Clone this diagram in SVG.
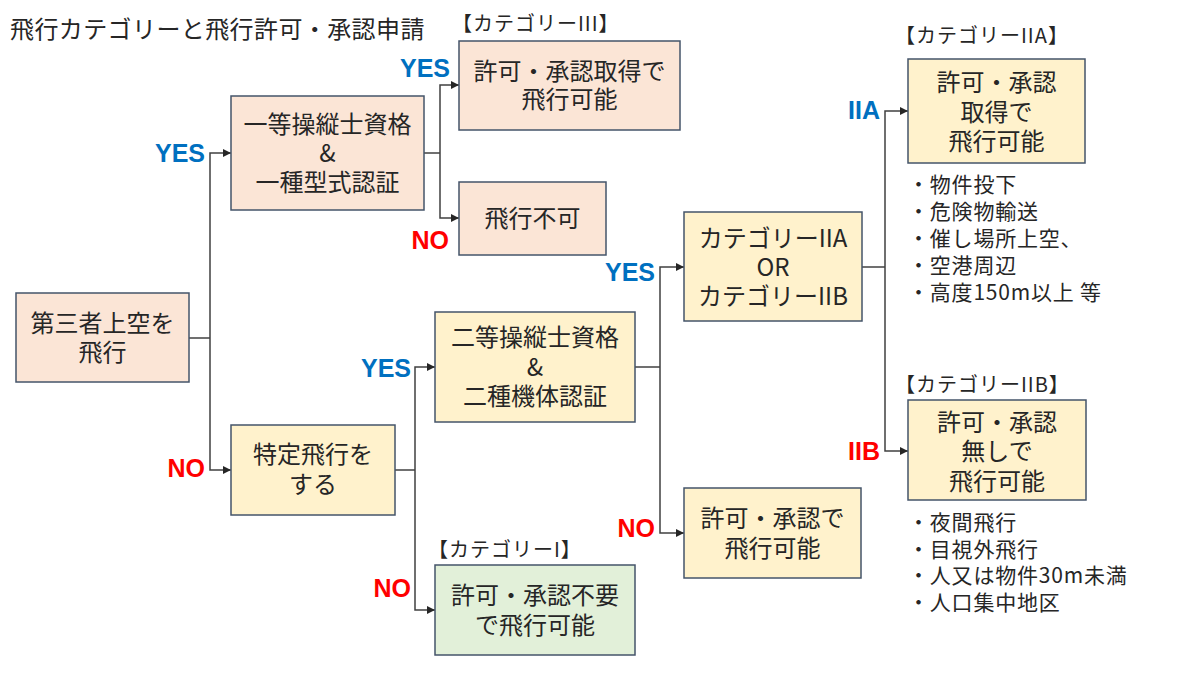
<svg xmlns="http://www.w3.org/2000/svg" width="1200" height="675" viewBox="0 0 1200 675">
<defs>
<style>
.box{stroke:#44546a;stroke-width:1.5}
.peach{fill:#fbe5d6}
.yellow{fill:#fff2cc}
.green{fill:#e2f0d9}
.t{font-family:"Noto Sans CJK JP","Noto Sans",sans-serif;font-size:24px;fill:#262626;text-anchor:middle;dominant-baseline:central}
.cat{font-family:"Noto Sans CJK JP","Noto Sans",sans-serif;font-size:20px;letter-spacing:1px;fill:#262626;dominant-baseline:central}
.lst{font-family:"Noto Sans CJK JP","Noto Sans",sans-serif;font-size:21px;letter-spacing:0.8px;fill:#262626;dominant-baseline:central}
.ttl{font-family:"Noto Sans CJK JP","Noto Sans",sans-serif;font-size:24px;letter-spacing:0.4px;fill:#262626;dominant-baseline:central}
.yes{font-family:"Liberation Sans",Arial,sans-serif;font-weight:bold;font-size:25px;fill:#0070c0;text-anchor:end;dominant-baseline:central}
.no{font-family:"Liberation Sans",Arial,sans-serif;font-weight:bold;font-size:25px;fill:#ff0000;text-anchor:end;dominant-baseline:central}
.c{fill:none;stroke:#404040;stroke-width:1.5}
</style>
<marker id="ah" markerUnits="userSpaceOnUse" markerWidth="9" markerHeight="8" refX="8" refY="4" orient="auto">
<path d="M0,0 L8,4 L0,8 Z" fill="#262626"/>
</marker>
</defs>
<rect width="1200" height="675" fill="#ffffff"/>
<text x="10" y="27" class="ttl">飛行カテゴリーと飛行許可・承認申請</text>

<g id="connectors">
<path class="c" d="M189,338 H210"/>
<path class="c" d="M210,338 V153 H231" marker-end="url(#ah)"/>
<path class="c" d="M210,338 V470 H231" marker-end="url(#ah)"/>
<path class="c" d="M424,153 H440"/>
<path class="c" d="M440,153 V85 H459" marker-end="url(#ah)"/>
<path class="c" d="M440,153 V218 H459" marker-end="url(#ah)"/>
<path class="c" d="M395,470 H415"/>
<path class="c" d="M415,470 V367 H435" marker-end="url(#ah)"/>
<path class="c" d="M415,470 V610 H435" marker-end="url(#ah)"/>
<path class="c" d="M635,367 H660"/>
<path class="c" d="M660,367 V267 H684" marker-end="url(#ah)"/>
<path class="c" d="M660,367 V533 H684" marker-end="url(#ah)"/>
<path class="c" d="M862,267 H885"/>
<path class="c" d="M885,267 V111 H908" marker-end="url(#ah)"/>
<path class="c" d="M885,267 V451 H908" marker-end="url(#ah)"/>
<text x="205" y="153" class="yes">YES</text>
<text x="205" y="468" class="no">NO</text>
<text x="450" y="68" class="yes">YES</text>
<text x="449" y="240" class="no">NO</text>
<text x="411" y="368" class="yes">YES</text>
<text x="411" y="588" class="no">NO</text>
<text x="655" y="272" class="yes">YES</text>
<text x="655" y="528" class="no">NO</text>
<text x="880" y="110" class="yes">IIA</text>
<text x="880" y="451" class="no">IIB</text>
</g>

<g id="n-start">
<rect x="16" y="293" width="173" height="89" class="box peach"/>
<text x="102.5" y="321" class="t">第三者上空を</text>
<text x="102.5" y="350" class="t">飛行</text>
</g>

<g id="n-first">
<rect x="231" y="96" width="193" height="114" class="box peach"/>
<text x="327.5" y="122" class="t">一等操縦士資格</text>
<text x="327.5" y="151" class="t">&amp;</text>
<text x="327.5" y="180" class="t">一種型式認証</text>
</g>

<g id="n-cat3">
<text x="452" y="22" class="cat">【カテゴリーIII】</text>
<rect x="459" y="41" width="221" height="89" class="box peach"/>
<text x="569.5" y="69" class="t">許可・承認取得で</text>
<text x="569.5" y="97" class="t">飛行可能</text>
</g>

<g id="n-ng">
<rect x="459" y="182" width="147" height="73" class="box peach"/>
<text x="532.5" y="216" class="t">飛行不可</text>
</g>

<g id="n-specific">
<rect x="231" y="425" width="164" height="90" class="box yellow"/>
<text x="313" y="452" class="t">特定飛行を</text>
<text x="313" y="482" class="t">する</text>
</g>

<g id="n-second">
<rect x="435" y="312" width="200" height="110" class="box yellow"/>
<text x="535" y="335" class="t">二等操縦士資格</text>
<text x="535" y="365" class="t">&amp;</text>
<text x="535" y="394" class="t">二種機体認証</text>
</g>

<g id="n-cat1">
<text x="428" y="548" class="cat">【カテゴリーI】</text>
<rect x="435" y="565" width="200" height="90" class="box green"/>
<text x="535" y="593" class="t">許可・承認不要</text>
<text x="535" y="623" class="t">で飛行可能</text>
</g>

<g id="n-cat2">
<rect x="684" y="212" width="178" height="109" class="box yellow"/>
<text x="773" y="236" class="t">カテゴリーIIA</text>
<text x="773" y="265" class="t">OR</text>
<text x="773" y="294" class="t">カテゴリーIIB</text>
</g>

<g id="n-permit">
<rect x="684" y="488" width="177" height="90" class="box yellow"/>
<text x="772.5" y="516" class="t">許可・承認で</text>
<text x="772.5" y="546" class="t">飛行可能</text>
</g>

<g id="n-cat2a">
<text x="895" y="34" class="cat">【カテゴリーIIA】</text>
<rect x="908" y="59" width="177" height="104" class="box yellow"/>
<text x="996.5" y="80" class="t">許可・承認</text>
<text x="996.5" y="110" class="t">取得で</text>
<text x="996.5" y="139" class="t">飛行可能</text>
<text x="908" y="183" class="lst">・物件投下</text>
<text x="908" y="210" class="lst">・危険物輸送</text>
<text x="908" y="237" class="lst">・催し場所上空、</text>
<text x="908" y="264" class="lst">・空港周辺</text>
<text x="908" y="291" class="lst">・高度150m以上 等</text>
</g>

<g id="n-cat2b">
<text x="895" y="383" class="cat">【カテゴリーIIB】</text>
<rect x="908" y="400" width="178" height="100" class="box yellow"/>
<text x="997" y="420" class="t">許可・承認</text>
<text x="997" y="449" class="t">無しで</text>
<text x="997" y="479" class="t">飛行可能</text>
<text x="908" y="521" class="lst">・夜間飛行</text>
<text x="908" y="548" class="lst">・目視外飛行</text>
<text x="908" y="574" class="lst">・人又は物件30m未満</text>
<text x="908" y="601" class="lst">・人口集中地区</text>
</g>
</svg>
